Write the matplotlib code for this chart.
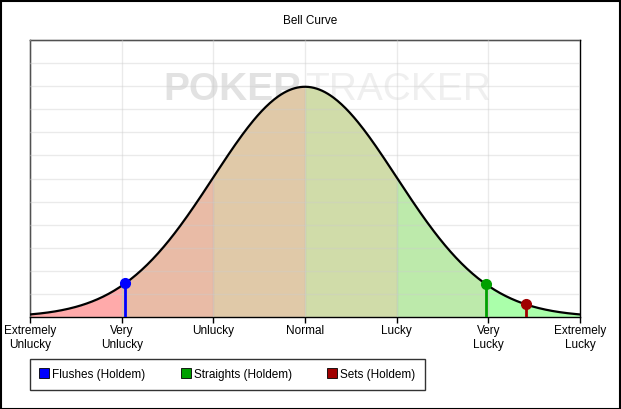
import matplotlib
matplotlib.use('Agg')
import matplotlib.pyplot as plt
import numpy as np
from matplotlib.lines import Line2D
from matplotlib.patches import Rectangle

plt.rcParams['font.family'] = ['Liberation Sans', 'DejaVu Sans']

# tick positions (standard deviations) and their labels
tick_pos = [-3, -2, -1, 0, 1, 2, 3]
tick_labels = ['Extremely\nUnlucky', 'Very\nUnlucky', 'Unlucky', 'Normal',
               'Lucky', 'Very\nLucky', 'Extremely\nLucky']

# shaded bands between ticks
band_edges = [-3, -2, -1, 0, 1, 2, 3]
band_colors = ['#ffaaaa', '#e9bba6', '#e0c9a8', '#d0dca9', '#bdeaab', '#aaffaa']

# the stats placed on the curve
stat_names = ['Flushes (Holdem)', 'Straights (Holdem)', 'Sets (Holdem)']
stat_z = [-1.96, 1.97, 2.41]
stat_colors = ['#0000ff', '#00a000', '#a00000']


def pdf(x):
    return np.exp(-x ** 2 / 2) / np.sqrt(2 * np.pi)


def main():
    fig = plt.figure(figsize=(6.21, 4.09), dpi=100)
    ax = fig.add_axes([30 / 621, 92 / 409, 550 / 621, 277 / 409])
    ax.set_xlim(-3, 3)
    ax.set_ylim(0, 0.48)

    # watermark behind everything
    ax.text(-0.03, 0.393, 'POKER', fontsize=28, fontweight='bold',
            color='#e2e2e2', ha='right', va='center', zorder=0)
    ax.text(0.0, 0.393, 'TRACKER', fontsize=28,
            color='#efefef', ha='left', va='center', zorder=0)

    for i in range(len(band_colors)):
        xs = np.linspace(band_edges[i], band_edges[i + 1], 100)
        ax.fill_between(xs, 0, pdf(xs), color=band_colors[i], lw=0, zorder=1)
        if i > 0:
            ax.plot([band_edges[i]] * 2, [0, pdf(band_edges[i])],
                    color='#000000', alpha=0.06, lw=1, zorder=1.5)

    ax.set_yticks(np.arange(0, 0.481, 0.04))
    ax.set_xticks(tick_pos)
    ax.grid(True, color='#cccccc', alpha=0.4, lw=1)
    ax.set_axisbelow(False)
    for gl in ax.get_xgridlines() + ax.get_ygridlines():
        gl.set_zorder(2)

    xs = np.linspace(-3, 3, 400)
    ax.plot(xs, pdf(xs), color='black', lw=1.6, zorder=4)

    for z, c in zip(stat_z, stat_colors):
        ax.plot([z, z], [0, pdf(z)], color=c, lw=2, zorder=5)
        ax.plot(z, pdf(z), 'o', color=c, ms=7, zorder=6)

    ax.set_xticklabels(tick_labels, fontsize=8.5)
    ax.tick_params(axis='x', length=4, width=1, pad=2)
    ax.tick_params(axis='y', left=False, labelleft=False)
    for s in ax.spines.values():
        s.set_linewidth(1)

    fig.text(0.5, 1 - 21 / 409, 'Bell Curve', ha='center', va='center',
             fontsize=8.5)

    handles = [Line2D([], [], ls='none', marker='s', ms=7, mfc=c,
                      mec='black', mew=0.6) for c in stat_colors]
    leg = fig.legend(handles, stat_names, loc='lower left', ncol=3,
                     bbox_to_anchor=(30 / 621, 19 / 409, 395 / 621, 31 / 409),
                     mode='expand', fontsize=8.5, frameon=True, fancybox=False,
                     handlelength=0.8, handletextpad=0.3, borderpad=0.8,
                     columnspacing=1.5, borderaxespad=0)
    leg.get_frame().set_edgecolor('black')
    leg.get_frame().set_linewidth(1)

    fig.patches.append(Rectangle((0.001, 0.001), 0.997, 0.997,
                                 transform=fig.transFigure, fill=False,
                                 edgecolor='black', lw=1.5))
    fig.savefig('out.png', dpi=100)


main()
